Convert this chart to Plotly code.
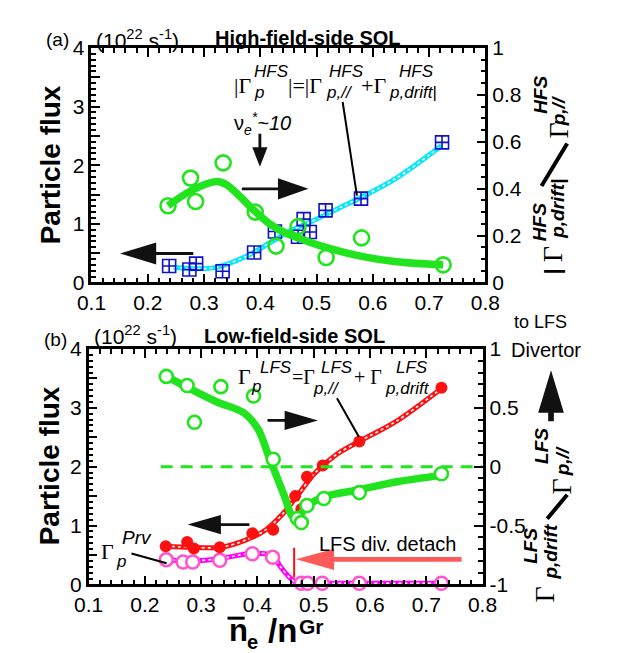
import math
import plotly.graph_objects as go

W, H = 617, 653
SANS = "Arial, Liberation Sans, sans-serif"
SERIF = "Times New Roman, Liberation Serif, serif"
GREEN = "#22e41e"
CYAN = "#00e8ff"
BLUE = "#1010c8"
RED = "#ff1010"
MAGENTA = "#ff00ff"
PINK = "#ff55cc"
SALMON = "#ff5a5a"

# ---------------- data: panel (a) HFS ----------------
hfs_x = [0.238, 0.274, 0.286, 0.333, 0.389, 0.426, 0.467, 0.477, 0.488, 0.516, 0.579, 0.723]
hfs_flux = [0.28, 0.22, 0.32, 0.19, 0.51, 0.87, 0.78, 1.08, 0.86, 1.23, 1.43, 2.39]
hfs_fit_x = [0.246, 0.289, 0.323, 0.376, 0.416, 0.456, 0.489, 0.542, 0.579, 0.642, 0.722]
hfs_fit_flux = [0.26, 0.232, 0.26, 0.45, 0.67, 0.895, 1.03, 1.28, 1.45, 1.78, 2.33]

hfs_ratio_x = [0.236, 0.276, 0.285, 0.334, 0.391, 0.428, 0.467, 0.517, 0.580, 0.725]
hfs_ratio = [0.327, 0.445, 0.345, 0.51, 0.30, 0.155, 0.238, 0.106, 0.19, 0.075]
hfs_ratio_fit_x = [0.236, 0.276, 0.323, 0.340, 0.363, 0.389, 0.416, 0.443, 0.476, 0.509, 0.576, 0.642, 0.725]
hfs_ratio_fit = [0.327, 0.39, 0.43, 0.417, 0.369, 0.307, 0.251, 0.213, 0.182, 0.155, 0.113, 0.088, 0.075]

# ---------------- data: panel (b) LFS ----------------
lfs_x = [0.237, 0.275, 0.287, 0.333, 0.391, 0.428, 0.467, 0.478, 0.488, 0.516, 0.581, 0.727]
lfs_flux = [0.65, 0.72, 0.61, 0.63, 0.87, 0.93, 1.50, 1.28, 1.83, 2.02, 2.43, 3.34]
lfs_fit_x = [0.237, 0.281, 0.335, 0.381, 0.415, 0.448, 0.475, 0.501, 0.541, 0.581, 0.648, 0.727]
lfs_fit_flux = [0.65, 0.63, 0.63, 0.76, 0.93, 1.23, 1.56, 1.88, 2.21, 2.43, 2.78, 3.33]

prv_x = [0.238, 0.268, 0.285, 0.333, 0.391, 0.427, 0.478, 0.489, 0.515, 0.581, 0.727]
prv_flux = [0.42, 0.38, 0.38, 0.41, 0.52, 0.46, 0.02, 0.02, 0.02, 0.02, 0.02]
prv_fit_x = [0.238, 0.285, 0.335, 0.391, 0.427, 0.441, 0.458, 0.471, 0.515, 0.727]
prv_fit_flux = [0.42, 0.40, 0.44, 0.53, 0.49, 0.30, 0.11, 0.02, 0.02, 0.02]

lfs_ratio_x = [0.238, 0.275, 0.288, 0.335, 0.393, 0.428, 0.471, 0.478, 0.488, 0.518, 0.581, 0.727]
lfs_ratio = [0.767, 0.69, 0.377, 0.68, 0.60, 0.063, -0.44, -0.475, -0.33, -0.27, -0.22, -0.06]
lfs_ratio_fit_x = [0.238, 0.281, 0.328, 0.375, 0.401, 0.421, 0.448, 0.461, 0.470, 0.488, 0.523, 0.581, 0.648, 0.727]
lfs_ratio_fit = [0.767, 0.66, 0.55, 0.46, 0.32, 0.076, -0.25, -0.415, -0.44, -0.333, -0.25, -0.196, -0.128, -0.074]

zero_x = [0.228, 0.8]
zero_y = [0, 0]

x_ticks = [0.1, 0.2, 0.3, 0.4, 0.5, 0.6, 0.7, 0.8]
flux_ticks = [0, 0.5, 1, 1.5, 2, 2.5, 3, 3.5, 4]
flux_labels = ["0", "", "1", "", "2", "", "3", "", "4"]
hfs_ratio_ticks = [0, 0.2, 0.4, 0.6, 0.8, 1]
hfs_ratio_labels = ["0", "0.2", "0.4", "0.6", "0.8", "1"]
lfs_ratio_ticks = [-1, -0.5, 0, 0.5, 1]
lfs_ratio_labels = ["-1", "-0.5", "0", "0.5", "1"]


def px(x):
    return x / W


def py(y):
    return 1 - y / H


fig = go.Figure()


def fit_line(x, y, color, xa, ya, width=5, crossed=True):
    fig.add_trace(go.Scatter(x=x, y=y, mode="lines", xaxis=xa, yaxis=ya,
                             line=dict(color=color, width=width, shape="spline", smoothing=0.9),
                             hoverinfo="skip", cliponaxis=False))
    if crossed:
        fig.add_trace(go.Scatter(x=x, y=y, mode="lines", xaxis=xa, yaxis=ya,
                                 line=dict(color="white", width=1.6, shape="spline", smoothing=0.9,
                                           dash="3px,3px"),
                                 hoverinfo="skip", cliponaxis=False))


# panel a
fit_line(hfs_fit_x, hfs_fit_flux, CYAN, "x", "y", width=5)
fit_line(hfs_ratio_fit_x, hfs_ratio_fit, GREEN, "x", "y2", width=7.5, crossed=False)
fig.add_trace(go.Scatter(x=hfs_ratio_x, y=hfs_ratio, mode="markers", xaxis="x", yaxis="y2",
                         marker=dict(symbol="circle-open", size=15, color=GREEN, line=dict(width=2.6)),
                         cliponaxis=False))
fig.add_trace(go.Scatter(x=hfs_x, y=hfs_flux, mode="markers", xaxis="x", yaxis="y",
                         marker=dict(symbol="square-cross-open", size=13, color=BLUE, line=dict(width=1.6)),
                         cliponaxis=False))

# panel b
fig.add_trace(go.Scatter(x=zero_x, y=zero_y, mode="lines", xaxis="x2", yaxis="y4",
                         line=dict(color=GREEN, width=3, dash="12px,8px"), cliponaxis=False))
fit_line(lfs_ratio_fit_x, lfs_ratio_fit, GREEN, "x2", "y4", width=7.5, crossed=False)
fit_line(prv_fit_x, prv_fit_flux, MAGENTA, "x2", "y3", width=5)
fit_line(lfs_fit_x, lfs_fit_flux, RED, "x2", "y3", width=5)
fig.add_trace(go.Scatter(x=lfs_ratio_x, y=lfs_ratio, mode="markers", xaxis="x2", yaxis="y4",
                         marker=dict(symbol="circle", size=13, color="white",
                                     line=dict(width=2.6, color=GREEN)),
                         cliponaxis=False))
fig.add_trace(go.Scatter(x=prv_x, y=prv_flux, mode="markers", xaxis="x2", yaxis="y3",
                         marker=dict(symbol="circle", size=13, color="white",
                                     line=dict(width=2.6, color=PINK)),
                         cliponaxis=False))
fig.add_trace(go.Scatter(x=lfs_x, y=lfs_flux, mode="markers", xaxis="x2", yaxis="y3",
                         marker=dict(symbol="circle", size=12, color=RED, line=dict(width=0)),
                         cliponaxis=False))

TICKFONT = dict(family=SANS, size=21, color="black")


def minor(d):
    return dict(dtick=d, ticks="inside", ticklen=5, tickwidth=2, tickcolor="black")


common_x = dict(range=[0.1, 0.8], tickvals=x_ticks, ticktext=[f"{v:.1f}" for v in x_ticks],
                ticks="inside", ticklen=9, tickwidth=2.2, tickcolor="black", minor=minor(0.02),
                showline=True, linecolor="black", linewidth=2.6, mirror="ticks",
                showgrid=False, zeroline=False, tickfont=TICKFONT, fixedrange=True)
common_y = dict(ticks="inside", ticklen=9, tickwidth=2.2, tickcolor="black",
                showline=True, linecolor="black", linewidth=2.6,
                showgrid=False, zeroline=False, tickfont=TICKFONT, fixedrange=True)

fig.update_layout(
    width=W, height=H, margin=dict(l=0, r=0, t=0, b=0),
    paper_bgcolor="white", plot_bgcolor="white", showlegend=False,
    font=dict(family=SANS, color="black"),
    xaxis=dict(domain=[px(72), px(486)], anchor="y", **common_x),
    yaxis=dict(domain=[py(272), py(29)], anchor="x", range=[0, 4],
               tickvals=flux_ticks, ticktext=flux_labels, minor=minor(0.1), **common_y),
    yaxis2=dict(overlaying="y", anchor="x", side="right", range=[0, 1],
                tickvals=hfs_ratio_ticks, ticktext=hfs_ratio_labels, minor=minor(0.05), **common_y),
    xaxis2=dict(domain=[px(69), px(483)], anchor="y3", **common_x),
    yaxis3=dict(domain=[py(585), py(341)], anchor="x2", range=[0, 4],
                tickvals=flux_ticks, ticktext=flux_labels, minor=minor(0.1), **common_y),
    yaxis4=dict(overlaying="y3", anchor="x2", side="right", range=[-1, 1],
                tickvals=lfs_ratio_ticks, ticktext=lfs_ratio_labels, minor=minor(0.1), **common_y),
)

ann = []


def txt(x, y, text, size, family=SANS, angle=0, xanchor="center", yanchor="middle", color="black"):
    ann.append(dict(x=px(x), y=py(y), xref="paper", yref="paper", text=text, showarrow=False,
                    textangle=angle, xanchor=xanchor, yanchor=yanchor,
                    font=dict(family=family, size=size, color=color)))


# titles
txt(22, 20, "(a)", 19, xanchor="left")
txt(75, 20, "(10<sup>22</sup> s<sup>-1</sup>)", 21, xanchor="left")
txt(200, 19, "<b>High-field-side SOL</b>", 20, xanchor="left")
txt(20, 331, "(b)", 19, xanchor="left")
txt(73, 327, "(10<sup>22</sup> s<sup>-1</sup>)", 21, xanchor="left")
txt(188, 328, "<b>Low-field-side SOL</b>", 20, xanchor="left")

# left axis titles
txt(29, 150, "<b>Particle flux</b>", 28, angle=-90)
txt(28, 462, "<b>Particle flux</b>", 28, angle=-90)

# x axis title (n-bar_e / n^Gr)
txt(214, 633, "<b>n</b>", 31, xanchor="left")
txt(233, 645, "<b>e</b>", 20, xanchor="left")
txt(255, 633, "<b>/n</b>", 33, xanchor="left")
txt(288, 629, "<b>Gr</b>", 21, xanchor="left")

# right axis title (a)
BI = lambda s: f"<b><i>{s}</i></b>"
txt(557, 261, BI("|"), 22, angle=-90)
txt(557, 243, "Γ", 28, family=SERIF, angle=-90)
txt(543, 210, BI("HFS"), 19, angle=-90)
txt(561, 196, BI("p,drift|"), 19, angle=-90)
txt(563, 115, "Γ", 28, family=SERIF, angle=-90)
txt(544, 78, BI("HFS"), 19, angle=-90)
txt(563, 95, BI("p,//"), 19, angle=-90)

# right axis title (b)
txt(548, 595, "Γ", 28, family=SERIF, angle=-90)
txt(534, 545, BI("LFS"), 19, angle=-90)
txt(555, 552, BI("p,drift"), 19, angle=-90)
txt(567, 483, "Γ", 28, family=SERIF, angle=-90)
txt(545, 442, BI("LFS"), 19, angle=-90)
txt(567, 457, BI("p,//"), 19, angle=-90)
txt(544, 313, "to LFS", 18)
txt(550, 342, "Divertor", 20)

# formula (a)
txt(220, 68, "|Γ", 22, family=SERIF, xanchor="left")
txt(241, 53, "<i>HFS</i>", 17, xanchor="left")
txt(241, 75, "<i>p</i>", 17, xanchor="left")
txt(276, 68, "|=|Γ", 22, family=SERIF, xanchor="left")
txt(320, 53, "<i>HFS</i>", 17, xanchor="left")
txt(316, 75, "<i>p,//</i>", 17, xanchor="left")
txt(353, 68, "+Γ", 22, family=SERIF, xanchor="left")
txt(393, 53, "<i>HFS</i>", 17, xanchor="left")
txt(383, 75, "<i>p,drift</i>|", 17, xanchor="left")

# nu_e
txt(220, 107, "ν<sub><i>e</i></sub><i><sup>*</sup>~10</i>", 20, xanchor="left")

# formula (b)
txt(224, 370, "Γ", 22, family=SERIF, xanchor="left")
txt(238, 380, "<i>p</i>", 17, xanchor="left")
txt(247, 360, "<i>LFS</i>", 17, xanchor="left")
txt(281, 370, "=Γ", 20, family=SERIF, xanchor="left")
txt(303, 382, "<i>p,//</i>", 17, xanchor="left")
txt(311, 360, "<i>LFS</i>", 17, xanchor="left")
txt(346, 370, "+ Γ", 20, family=SERIF, xanchor="left")
txt(390, 360, "<i>LFS</i>", 17, xanchor="left")
txt(378, 382, "<i>p,drift</i>", 17, xanchor="left")

# Prv
txt(80, 551, "Γ", 22, family=SERIF, xanchor="left")
txt(96, 561, "<i>p</i>", 17, xanchor="left")
txt(102, 536, "<i>Prv</i>", 19, xanchor="left")

txt(383, 543, "LFS div. detach", 20)

fig.update_layout(annotations=ann)

shapes = []


def arrow(x0, y0, x1, y1, shaft, hlen, hwid, color="#111111"):
    dx, dy = x1 - x0, y1 - y0
    L = math.hypot(dx, dy)
    ux, uy = dx / L, dy / L
    nx, ny = -uy, ux
    bx, by = x1 - ux * hlen, y1 - uy * hlen
    pts = [
        (x0 + nx * shaft / 2, y0 + ny * shaft / 2),
        (bx + nx * shaft / 2, by + ny * shaft / 2),
        (bx + nx * hwid / 2, by + ny * hwid / 2),
        (x1, y1),
        (bx - nx * hwid / 2, by - ny * hwid / 2),
        (bx - nx * shaft / 2, by - ny * shaft / 2),
        (x0 - nx * shaft / 2, y0 - ny * shaft / 2),
    ]
    path = "M " + " L ".join(f"{px(a):.5f},{py(b):.5f}" for a, b in pts) + " Z"
    shapes.append(dict(type="path", xref="paper", yref="paper", path=path,
                       fillcolor=color, line=dict(width=0)))


def seg(x0, y0, x1, y1, color="black", width=2):
    shapes.append(dict(type="line", xref="paper", yref="paper", x0=px(x0), y0=py(y0),
                       x1=px(x1), y1=py(y1), line=dict(color=color, width=width)))


arrow(249, 118, 249, 152, 3, 20, 16)
arrow(230, 175, 300, 175, 3, 32, 22)
arrow(179, 242, 102, 242, 3, 38, 23)
arrow(257, 415, 310, 415, 3, 35, 20)
arrow(238, 523, 173, 523, 3, 35, 20)
arrow(555, 416, 555, 363, 6, 44, 27)
arrow(461, 559, 287, 559, 5, 40, 22, color=SALMON)
seg(336, 85, 351, 182)
seg(330, 392, 353, 432)
seg(114, 553, 151, 563)
seg(285, 547, 285, 578, color=RED, width=2)
# division slashes in the rotated right-axis titles
seg(545, 172, 572, 128, width=4)
seg(551, 517, 572, 492, width=4)
# overbar of n
seg(215, 620, 233, 620, width=3)

fig.update_layout(shapes=shapes)
fig.write_html("out.html")
